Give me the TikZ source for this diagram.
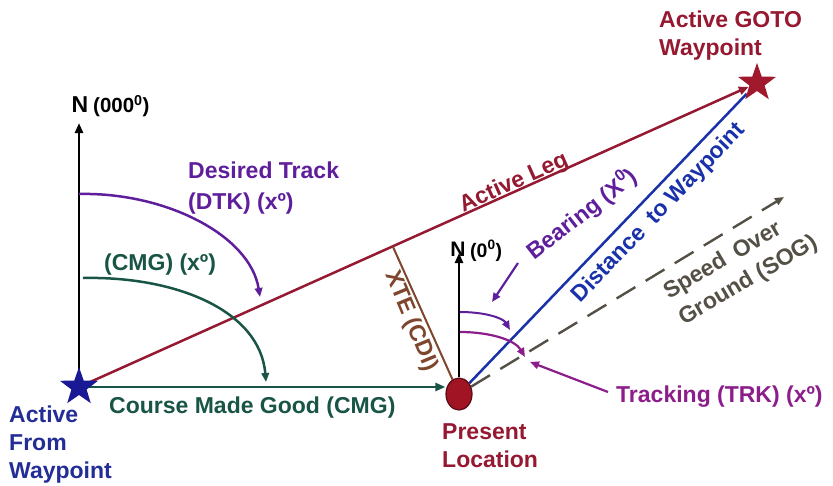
\documentclass[tikz,border=0pt]{standalone}
\usepackage{fontspec}
\setmainfont{Liberation Sans}
\usetikzlibrary{arrows.meta,shapes.geometric,calc}
\definecolor{cred}{RGB}{150,25,50}
\definecolor{cstarred}{RGB}{160,25,45}
\definecolor{cblue}{RGB}{25,50,170}
\definecolor{cstarblue}{RGB}{25,25,150}
\definecolor{cfromblue}{RGB}{35,45,150}
\definecolor{cgreen}{RGB}{25,85,70}
\definecolor{cpurple}{RGB}{95,30,155}
\definecolor{cmag}{RGB}{140,30,140}
\definecolor{cbrown}{RGB}{125,70,45}
\definecolor{cgray}{RGB}{85,80,70}
\definecolor{cloc}{RGB}{160,20,35}
\definecolor{clocdark}{RGB}{90,10,20}
\pgfdeclarelayer{background}
\pgfsetlayers{background,main}
\begin{document}
\begin{tikzpicture}[x=1pt,y=-1pt,
  every node/.style={font=\bfseries\fontsize{23}{29}\selectfont, inner sep=2pt},
  arr/.style={-{Triangle[length=10pt,width=8pt]}},
  arrs/.style={-{Triangle[length=9pt,width=7.5pt]}},
  starnode/.style={star, star points=5, star point ratio=2.5, minimum size=40pt, inner sep=0pt, draw=none},
  lbl/.style={align=left, anchor=west}
]
\useasboundingbox (0,0) rectangle (833,485);

% main nodes
\node[starnode, fill=cstarblue] (from) at (79,387) {};
\node[starnode, fill=cstarred] (goto) at (757,83) {};
\node[ellipse, minimum width=26pt, minimum height=32pt, inner sep=0pt, fill=cloc, draw=clocdark, line width=1.2pt] (loc) at (459,394) {};

\coordinate (n1tip) at (79,123);
\coordinate (n2tip) at (459,253);
\coordinate (sogend) at (784,197);
\coordinate (xtefoot) at ($(from.center)!(loc.center)!(goto.center)$);

\begin{pgfonlayer}{background}
  \fill[white] (0,0) rectangle (833,485);
  % north axes
  \draw[arr, line width=2.8pt] (from.center) -- (n1tip);
  \draw[arr, line width=2.6pt] (loc.north) -- (n2tip);
  % course made good
  \draw[arr, cgreen, line width=2.6pt] (from.center) -- (from.center -| loc.west);
  % active leg
  \draw[arr, cred, line width=2.5pt] (from.center) -- (goto);
  % distance to waypoint
  \draw[cblue, line width=2.5pt] (loc) -- (goto);
  % speed over ground
  \draw[arrs, cgray, line width=2.4pt, dash pattern=on 22pt off 12pt] (loc) -- (sogend);
  % cross track error
  \draw[cbrown, line width=2pt] (xtefoot) -- (loc);
\end{pgfonlayer}

% arcs
\coordinate (dtk0) at (79,194);
\coordinate (dtk1) at (260,297);
\draw[arrs, cpurple, line width=2.5pt] (dtk0) .. controls (165,192) and (250,235) .. (dtk1);
\coordinate (cmg0) at (83,278);
\coordinate (cmg1) at (266,382);
\draw[arrs, cgreen, line width=2.5pt] (cmg0) .. controls (175,276) and (260,310) .. (cmg1);
\coordinate (brg0) at (460,312);
\coordinate (brg1) at (510,330);
\draw[arrs, cpurple, line width=2pt] (brg0) .. controls (485,312) and (503,318) .. (brg1);
\coordinate (trk0) at (460,332);
\coordinate (trk1) at (525,357);
\draw[arrs, cmag, line width=2.2pt] (trk0) .. controls (490,332) and (515,340) .. (trk1);
% pointers
\coordinate (bp0) at (518,263);
\coordinate (bp1) at (492,302);
\draw[arrs, cpurple, line width=2.2pt] (bp0) -- (bp1);
\coordinate (tp0) at (608,392);
\coordinate (tp1) at (530,362);
\draw[arrs, cmag, line width=2.2pt] (tp0) -- (tp1);

% labels
\node (n1) at (80,105) {N};
\node[anchor=west, font=\bfseries\fontsize{20.5}{24}\selectfont] (n1deg) at (91,106) {(000\textsuperscript{0})};
\node[font=\bfseries\fontsize{21}{24}\selectfont] (n2) at (458,249) {N};
\node[anchor=west, font=\bfseries\fontsize{19.5}{22}\selectfont] (n2deg) at (468,251) {(0\textsuperscript{0})};

\node[lbl, text=cpurple, font=\bfseries\fontsize{23}{31}\selectfont] (dtk) at (186,188) {Desired Track\\(DTK) (xº)};
\node[lbl, text=cgreen] (cmgl) at (102,265) {(CMG) (xº)};
\node[lbl, text=cgreen] (cmgt) at (107,408) {Course Made Good (CMG)};
\node[lbl, text=cfromblue, font=\bfseries\fontsize{23}{28}\selectfont] (fromt) at (7,445) {Active\\From\\Waypoint};
\node[lbl, text=cred, font=\bfseries\fontsize{23}{28}\selectfont] (loct) at (440,446) {Present\\Location};
\node[lbl, text=cred, font=\bfseries\fontsize{23}{28}\selectfont] (gotot) at (657,36) {Active GOTO\\Waypoint};
\node[lbl, text=cmag] (trkt) at (614,397) {Tracking (TRK) (xº)};

\node[text=cred, rotate=24] (legt) at (514,183) {Active Leg};
\node[text=cpurple, rotate=38] (brgt) at (582,214) {Bearing (X\textsuperscript{0})};
\node[text=cblue, rotate=46.2] (distt) at (659,213) {Distance\hspace{0.25em} to Waypoint};
\node[text=cgray, rotate=30.5, align=left, font=\bfseries\fontsize{23}{30}\selectfont] (sogt) at (741,268) {Speed\hspace{0.2em} Over\\Ground (SOG)};
\node[text=cbrown, rotate=-67.5] (xtet) at (411,321) {XTE (CDI)};
\end{tikzpicture}
\end{document}
